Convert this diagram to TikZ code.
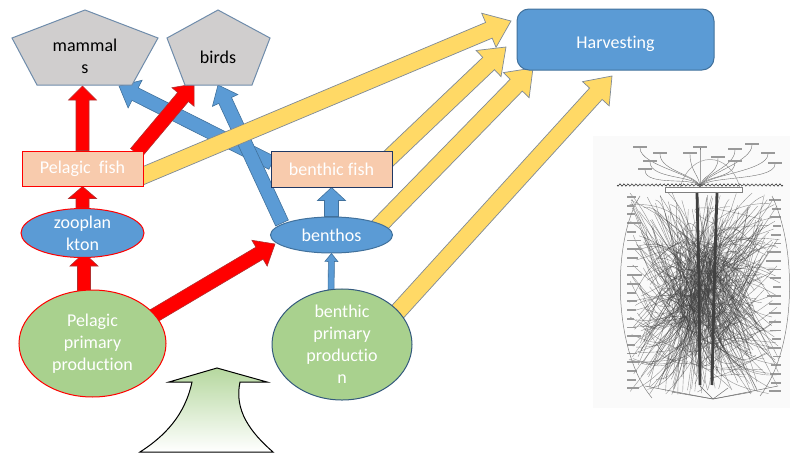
\documentclass[tikz,border=0pt]{standalone}
\usepackage{fontspec}
\setmainfont{Carlito}[Ligatures=NoCommon]
\usetikzlibrary{calc,shapes.geometric}

\definecolor{peach}{HTML}{F8CBAD}
\definecolor{leaf}{HTML}{A9D18E}
\definecolor{sky}{HTML}{5B9BD5}
\definecolor{skyline}{HTML}{41719C}
\definecolor{navyline}{HTML}{203864}
\definecolor{sand}{HTML}{FFD966}
\definecolor{sandline}{HTML}{7F8A96}
\definecolor{stone}{HTML}{D0CECE}
\definecolor{stoneline}{HTML}{6F8CAB}
\definecolor{fire}{HTML}{FF0000}
\definecolor{fireline}{HTML}{B03030}

\pgfdeclarelayer{flows}
\pgfsetlayers{flows,main}

% flat block arrow: style, tail, tip, shaft half width, head half width, head length
\newcommand\blockarrow[6]{%
  \path[#1] ($(#2)!#4!90:(#3)$)
    -- ($(#3)!#6!(#2)!#4!90:(#3)$)
    -- ($(#3)!#6!(#2)!#5!90:(#3)$)
    -- (#3)
    -- ($(#3)!#6!(#2)!#5!-90:(#3)$)
    -- ($(#3)!#6!(#2)!#4!-90:(#3)$)
    -- ($(#2)!#4!-90:(#3)$) -- cycle;}

\tikzset{
  lbl/.style={font=\fontsize{18}{22}\selectfont, align=center, inner sep=0pt},
  boxnode/.style={lbl, text=white, minimum width=121pt, minimum height=35pt, line width=1pt},
  ovalnode/.style={lbl, text=white, ellipse, line width=1pt},
  redarr/.style={fill=fire, draw=fireline, line width=.6pt},
  bluearr/.style={fill=sky, draw=skyline, line width=.6pt},
  yelarr/.style={fill=sand, draw=sandline, line width=.7pt},
  pent/.style={fill=stone, draw=stoneline, line width=1pt},
  webline/.style={black!75, line width=.4pt, opacity=.55},
}

\begin{document}
\begin{tikzpicture}[x=1pt,y=-1pt]
\useasboundingbox (0,0) rectangle (790,455);

% ---------- scanned food web on the right ----------
\begin{scope}
  \fill[black!2] (593,136) rectangle (790,408);
  \pgfmathsetseed{42}
  % labels above the surface
  \foreach \lx/\ly in {640/146,660/152,650/160,645/168,690/152,700/146,735/148,752/143,768/152,775/162,735/160,718/156}{
    \fill[black!40] (\lx-7,\ly) rectangle (\lx+7,\ly+2);
    \draw[black!55, line width=.4pt] (\lx,\ly+2) .. controls (\lx,\ly+20) and (700,175) .. (700,188);
  }
  \draw[black!40, line width=.5pt] (680,188) .. controls (690,150) and (730,150) .. (740,188);
  % sea surface
  \draw[black!75, line width=.6pt] plot[domain=0:166, samples=170] ({617+\x},{185+1.2*sin(mod(\x,4)*90)});
  \draw[black!50, fill=white] (665,187) rectangle (742,192);
  % tangled links
  \foreach \i in {1,...,280}{
    \pgfmathsetmacro\ax{628+152*rnd}
    \pgfmathsetmacro\ay{192+203*rnd}
    \pgfmathsetmacro\dx{628+152*rnd}
    \pgfmathsetmacro\dy{192+203*rnd}
    \pgfmathsetmacro\pxa{670+60*rnd}
    \pgfmathsetmacro\pya{192+200*rnd}
    \pgfmathsetmacro\pxb{670+60*rnd}
    \pgfmathsetmacro\pyb{192+200*rnd}
    \draw[webline] (\ax,\ay) .. controls (\pxa,\pya) and (\pxb,\pyb) .. (\dx,\dy);
  }
  % species labels in the side columns
  \foreach \i in {0,...,22}{
    \pgfmathsetmacro\yy{196+\i*8.7}
    \pgfmathsetmacro\ll{7+8*rnd}
    \pgfmathsetmacro\rr{7+8*rnd}
    \fill[black!40] (627,\yy) rectangle ++(\ll,1.8);
    \fill[black!40] (781-\rr,\yy+3) rectangle ++(\rr,1.8);
  }
  % heavy trunks
  \draw[black!75, line width=2.8pt] (697,193) .. controls (699,280) .. (700,385);
  \draw[black!75, line width=2.8pt] (717,193) .. controls (714,290) .. (712,385);
  % outer loops
  \draw[black!50, line width=.5pt] (640,196) .. controls (612,240) and (612,350) .. (652,398);
  \draw[black!50, line width=.5pt] (772,196) .. controls (798,250) and (796,350) .. (760,396);
  \foreach \bx/\by in {645/386,672/392,700/386,728/388,752/392,778/386}
    \draw[black!55, line width=.5pt] (\bx,\by) -- (713,399);
\end{scope}

% ---------- sunlight arrow ----------
\path[draw=black, line width=1pt, top color=leaf!85, bottom color=white]
  (140,452) .. controls (165,436) and (185,415) .. (192,382)
  -- (169,382) -- (217,368) -- (267,382) -- (240,382)
  .. controls (234,410) and (250,432) .. (273,452) -- cycle;

% ---------- nodes ----------
\node[boxnode, fill=peach, draw=fire] (pf) at (82.5,168.5) {Pelagic\ \ fish};
\node[ovalnode, fill=sky, draw=fire, minimum width=123pt, minimum height=38pt] (zoo) at (82.5,233) {zooplan\\kton};
\node[ovalnode, fill=leaf, draw=fire, minimum width=147pt, minimum height=107pt] (ppp) at (92.5,343.5) {Pelagic\\primary\\production};
\node[boxnode, fill=peach, draw=navyline, minimum height=36pt] (bf) at (331.5,169) {benthic fish};
\node[ovalnode, fill=sky, draw=skyline, minimum width=122pt, minimum height=36pt] (ben) at (331.5,235) {benthos};
\node[ovalnode, fill=leaf, draw=skyline!80!black, minimum width=140pt, minimum height=105pt] (bpp) at (342,344.5) {benthic\\primary\\productio\\n};
\node[lbl, text=white, fill=sky, draw=skyline, line width=1pt, rounded corners=12pt,
      minimum width=197pt, minimum height=61pt] (harv) at (615.5,39.5) {\raisebox{-9pt}[0pt][0pt]{Harvesting}};

% pentagons for the top predators
\path[pent] (85,10) -- (158,38) -- (132,85) -- (37,85) -- (12,38) -- cycle;
\node[lbl] (mam) at (85,56.5) {mammal\\s};
\path[pent] (218,10) -- (270,38) -- (252,85) -- (185,85) -- (167,38) -- cycle;
\node[lbl] (brd) at (218,57) {birds};

% connector ends on the pentagons and node rims
\coordinate (mamS) at (82.5,86);
\coordinate (mamSE) at (119,86);
\coordinate (brdSW) at (194,84);
\coordinate (brdS) at (218,85);
\coordinate (pfNE) at (136,153);
\coordinate (pfE) at (140,177);
\coordinate (pppN) at (84,292);
\coordinate (zooS) at (84,253);
\coordinate (pppNE) at (150,318);
\coordinate (benW) at (275,244);
\coordinate (bfW) at (272,163);
\coordinate (benNW) at (282,223);
\coordinate (bppN) at (331,293);
\coordinate (bfE) at (385,162);
\coordinate (benNE) at (375,230);
\coordinate (bppNE) at (392,318);
\coordinate (harvA) at (511,21);
\coordinate (harvB) at (506,47);
\coordinate (harvC) at (533,68);
\coordinate (harvD) at (612,76);

% ---------- flows, kept behind the nodes ----------
\begin{pgfonlayer}{flows}
  % benthic links
  \blockarrow{bluearr}{bfW}{mamSE}{7pt}{15.5pt}{18pt}
  \blockarrow{bluearr}{benNW}{brdS}{7pt}{14pt}{17pt}
  \blockarrow{bluearr}{ben.north}{bf.south}{7pt}{14pt}{13pt}
  \blockarrow{bluearr}{bppN}{ben.south}{3pt}{6.5pt}{8pt}
  % pelagic links
  \blockarrow{redarr}{pf.north}{mamS}{6.5pt}{14pt}{14pt}
  \blockarrow{redarr}{pfNE}{brdSW}{7pt}{14.5pt}{17pt}
  \blockarrow{redarr}{zoo.north}{pf.south}{6.5pt}{14pt}{12pt}
  \blockarrow{redarr}{pppN}{zooS}{6.5pt}{14pt}{13pt}
  \blockarrow{redarr}{pppNE}{benW}{7pt}{15pt}{18pt}
  % catches
  \blockarrow{yelarr}{pfE}{harvA}{8.5pt}{18.5pt}{24pt}
  \blockarrow{yelarr}{bfE}{harvB}{8.5pt}{18pt}{24pt}
  \blockarrow{yelarr}{benNE}{harvC}{8.5pt}{18pt}{24pt}
  \blockarrow{yelarr}{bppNE}{harvD}{8.5pt}{18pt}{24pt}
\end{pgfonlayer}
\end{tikzpicture}
\end{document}
